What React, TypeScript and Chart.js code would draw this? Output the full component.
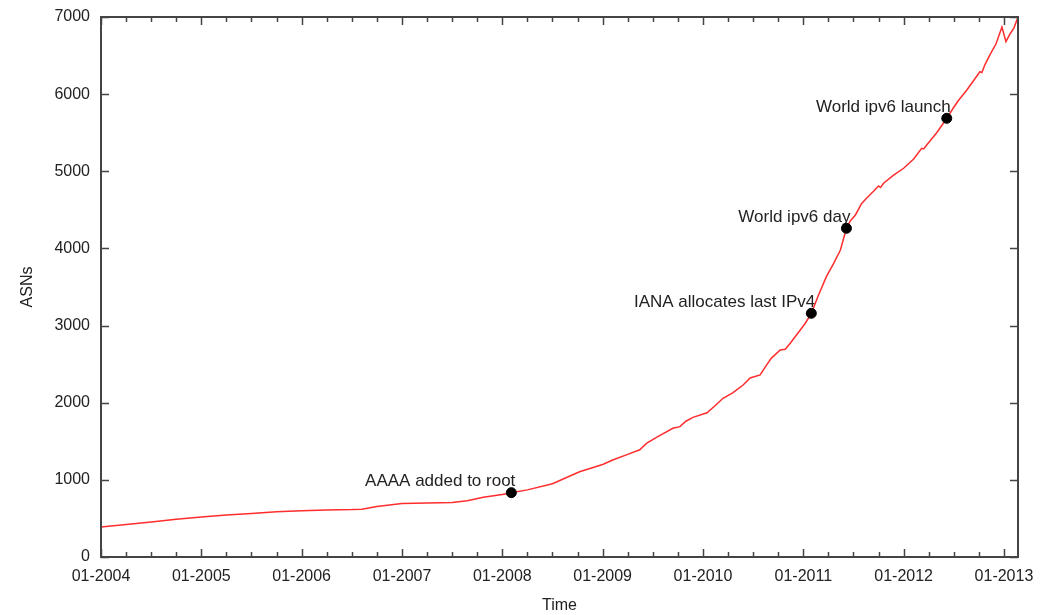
import React, { useEffect, useRef } from "react";
import { Chart, registerables } from "chart.js";

Chart.register(...registerables);

// Time as fractional year
const times = [
  2004.0, 2004.25, 2004.5, 2004.75, 2005.0, 2005.25, 2005.5, 2005.75, 2006.0, 2006.25,
  2006.5, 2006.6, 2006.75, 2007.0, 2007.25, 2007.5, 2007.65, 2007.81, 2008.0, 2008.09,
  2008.25, 2008.5, 2008.77, 2009.0, 2009.1, 2009.25, 2009.37, 2009.44, 2009.55, 2009.7,
  2009.77, 2009.83, 2009.9, 2010.04, 2010.12, 2010.2, 2010.3, 2010.4, 2010.47, 2010.57,
  2010.63, 2010.68, 2010.77, 2010.82, 2010.87, 2010.97, 2011.02, 2011.08, 2011.15, 2011.23,
  2011.3, 2011.37, 2011.43, 2011.47, 2011.52, 2011.58, 2011.63, 2011.7, 2011.75, 2011.77,
  2011.8, 2011.9, 2012.0, 2012.1, 2012.18, 2012.2, 2012.23, 2012.33, 2012.43, 2012.5,
  2012.55, 2012.63, 2012.7, 2012.76, 2012.78, 2012.81, 2012.86, 2012.92, 2012.98, 2013.02,
  2013.06, 2013.1, 2013.14,
];
const asns = [
  390, 420, 455, 490, 520, 545, 565, 585, 600, 610,
  615, 620, 655, 695, 700, 705, 730, 775, 810, 834,
  870, 950, 1105, 1200, 1257, 1330, 1390, 1475, 1560, 1668,
  1690, 1760, 1810, 1870, 1960, 2057, 2130, 2230, 2320, 2360,
  2480, 2575, 2683, 2692, 2770, 2943, 3030, 3159, 3390, 3634,
  3800, 3980, 4261, 4360, 4434, 4580, 4650, 4740, 4810, 4790,
  4845, 4950, 5039, 5160, 5298, 5290, 5341, 5500, 5687, 5830,
  5924, 6054, 6180, 6290, 6280, 6380, 6510, 6650, 6870, 6680,
  6780, 6860, 7000,
];

const eventTimes = [2008.09, 2011.08, 2011.43, 2012.43];
const eventValues = [834, 3159, 4261, 5687];
const eventLabels = ["AAAA added to root", "IANA allocates last IPv4", "World ipv6 day", "World ipv6 launch"];

const yearTicks = [2004, 2005, 2006, 2007, 2008, 2009, 2010, 2011, 2012, 2013];
const yTicks = [0, 1000, 2000, 3000, 4000, 5000, 6000, 7000];

const FONT = "'Liberation Sans', Arial, Helvetica, sans-serif";

const framePlugin = {
  id: "gnuframe",
  beforeDatasetsDraw(chart: any) {
    const { ctx } = chart;
    const xs = chart.scales.x;
    ctx.save();
    ctx.font = `17px ${FONT}`;
    ctx.fillStyle = "#222";
    ctx.textAlign = "right";
    ctx.textBaseline = "middle";
    for (let i = 0; i < eventLabels.length; i++) {
      const px = xs.getPixelForValue(eventTimes[i]);
      const py = chart.scales.y.getPixelForValue(eventValues[i]);
      ctx.fillText(eventLabels[i], px + 4, py - 11);
    }
    ctx.restore();
  },
  afterDatasetsDraw(chart: any) {
    const { ctx, chartArea } = chart;
    const { left, right, top, bottom } = chartArea;
    const xs = chart.scales.x;
    const ys = chart.scales.y;
    ctx.save();
    ctx.strokeStyle = "#444";
    ctx.lineWidth = 1.5;
    ctx.beginPath();
    for (let q = 0; q <= 36; q++) {
      const v = 2004 + q * 0.25;
      const px = Math.round(xs.getPixelForValue(v)) + 0.5;
      const len = q % 4 === 0 ? 8 : 5;
      ctx.moveTo(px, bottom);
      ctx.lineTo(px, bottom - len);
      ctx.moveTo(px, top);
      ctx.lineTo(px, top + len);
    }
    for (const v of yTicks) {
      const py = Math.round(ys.getPixelForValue(v)) + 0.5;
      ctx.moveTo(left, py);
      ctx.lineTo(left + 8, py);
      ctx.moveTo(right, py);
      ctx.lineTo(right - 8, py);
    }
    ctx.stroke();
    ctx.lineWidth = 2;
    ctx.strokeRect(left, top, right - left, bottom - top);
    ctx.restore();
  },
};

export default function App() {
  const ref = useRef<HTMLCanvasElement | null>(null);
  useEffect(() => {
    document.body.style.margin = "0";
    if (!ref.current) return;
    const chart = new Chart(ref.current, {
      type: "line",
      data: {
        datasets: [
          {
            data: times.map((t, i) => ({ x: t, y: asns[i] })),
            borderColor: "rgb(255,45,45)",
            borderWidth: 1.5,
            pointRadius: 0,
            tension: 0,
            order: 2,
          },
          {
            type: "scatter",
            data: eventTimes.map((t, i) => ({ x: t, y: eventValues[i] })),
            backgroundColor: "#000",
            borderColor: "#000",
            pointRadius: 5,
            order: 1,
          } as any,
        ],
      },
      options: {
        animation: false,
        responsive: false,
        maintainAspectRatio: false,
        layout: { padding: { top: 17, right: 33, left: 0, bottom: 0 } },
        plugins: { legend: { display: false }, tooltip: { enabled: false } },
        scales: {
          x: {
            type: "linear",
            min: 2004,
            max: 2013.14,
            grid: { display: false, drawTicks: false },
            border: { display: false },
            afterBuildTicks: (s: any) => {
              s.ticks = yearTicks.map((v) => ({ value: v }));
            },
            afterFit: (s: any) => {
              s.height = 58;
              s.paddingLeft = 0;
              s.paddingRight = 0;
            },
            ticks: {
              autoSkip: false,
              maxRotation: 0,
              padding: 10,
              color: "#222",
              font: { family: FONT, size: 16 },
              callback: (v: any) => "01-" + v,
            },
            title: {
              display: true,
              text: "Time",
              color: "#222",
              font: { family: FONT, size: 16 },
              padding: { top: 0, bottom: 0 },
            },
          },
          y: {
            min: 0,
            max: 7000,
            grid: { display: false, drawTicks: false },
            border: { display: false },
            afterBuildTicks: (s: any) => {
              s.ticks = yTicks.map((v) => ({ value: v }));
            },
            afterFit: (s: any) => {
              s.width = 101;
              s.paddingTop = 0;
              s.paddingBottom = 0;
            },
            ticks: {
              padding: 11,
              color: "#222",
              font: { family: FONT, size: 16 },
              callback: (v: any) => String(v),
            },
            title: {
              display: true,
              text: "ASNs",
              color: "#222",
              font: { family: FONT, size: 16 },
              padding: { top: 18, bottom: 0 },
            },
          },
        },
      },
      plugins: [framePlugin],
    });
    return () => chart.destroy();
  }, []);
  return (
    <div style={{ width: 1051, height: 615 }}>
      <canvas ref={ref} width={1051} height={615} style={{ display: "block" }} />
    </div>
  );
}
